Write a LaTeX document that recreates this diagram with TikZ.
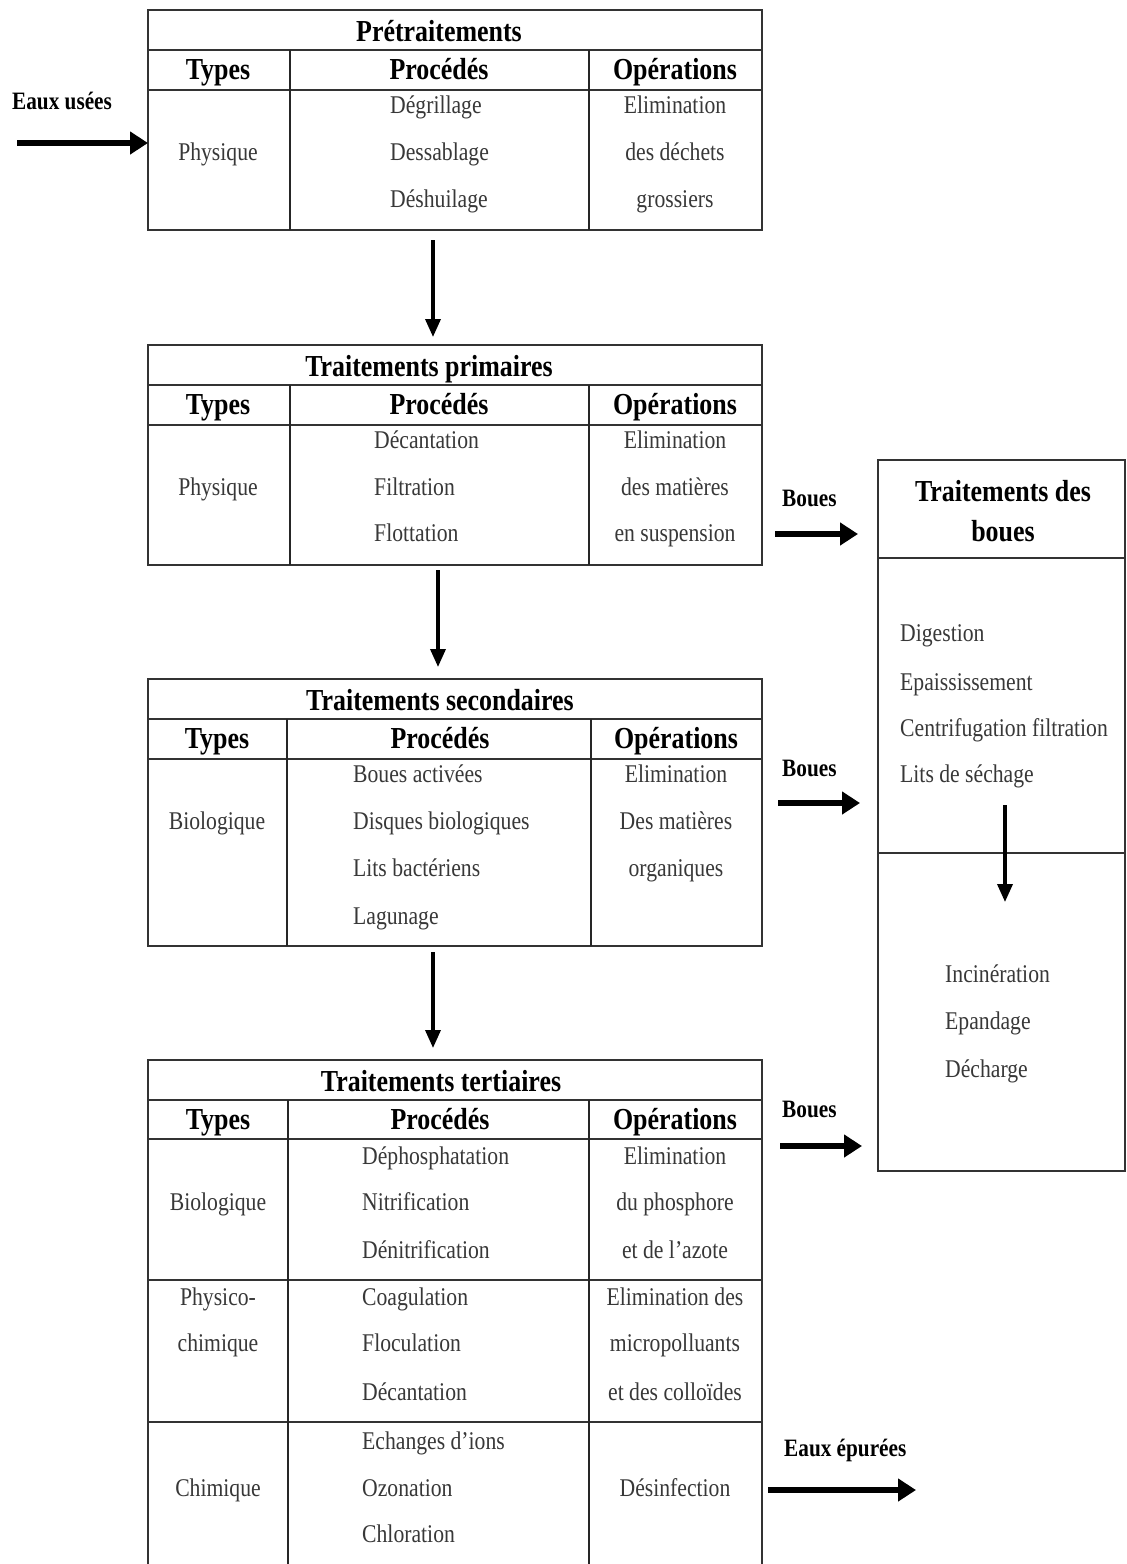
\documentclass[tikz,border=0pt]{standalone}
\usepackage{fontspec}
\setmainfont[FakeStretch=0.85]{Liberation Serif}
\usetikzlibrary{arrows.meta}
\begin{document}
\begin{tikzpicture}[x=1pt,y=-1pt,
  tbl/.style={draw=black!80, line width=2.2pt, inner sep=0, outer sep=0, anchor=north west},
  rowline/.style={draw=black!80, line width=2.2pt},
  colline/.style={draw=black!85, line width=1.4pt},
  txt/.style={inner sep=0, font=\fontsize{25.5}{28}\selectfont, text=black!78, anchor=base},
  txtw/.style={txt, anchor=base west},
  ttl/.style={inner sep=0, font=\fontsize{30.5}{34}\selectfont\bfseries, anchor=base},
  lab/.style={inner sep=0, font=\fontsize{25}{28}\selectfont\bfseries, anchor=base west},
  bigarrow/.style={line width=5.5pt, -{Triangle[length=18pt,width=22pt]}},
  downarrow/.style={line width=3.5pt, -{Triangle[length=18pt,width=15pt]}}]
\useasboundingbox[fill=white] (0,0) rectangle (1127,1564);

% ---------- Table 1 : Pretraitements ----------
\node[tbl, minimum width=614pt, minimum height=220pt] (t1) at (148,10) {};
\draw[rowline] (148,50) -- (762,50);
\draw[rowline] (148,90) -- (762,90);
\draw[colline] (290,50) -- (290,230);
\draw[colline] (589,50) -- (589,230);
\node[ttl] (t1ti) at (439,41) {Prétraitements};
\node[ttl] (t1h1) at (218,79) {Types};
\node[ttl] (t1h2) at (439,79) {Procédés};
\node[ttl] (t1h3) at (675,79) {Opérations};
\node[txt] (t1ty) at (218,160) {Physique};
\node[txtw] (t1p1) at (390,113) {Dégrillage};
\node[txtw] (t1p2) at (390,160) {Dessablage};
\node[txtw] (t1p3) at (390,207) {Déshuilage};
\node[txt] (t1o1) at (675,113) {Elimination};
\node[txt] (t1o2) at (675,160) {des déchets};
\node[txt] (t1o3) at (675,207) {grossiers};

% ---------- Table 2 : Traitements primaires ----------
\node[tbl, minimum width=614pt, minimum height=220pt] (t2) at (148,345) {};
\draw[rowline] (148,385) -- (762,385);
\draw[rowline] (148,425) -- (762,425);
\draw[colline] (290,385) -- (290,565);
\draw[colline] (589,385) -- (589,565);
\node[ttl] (t2ti) at (429,376) {Traitements primaires};
\node[ttl] (t2h1) at (218,414) {Types};
\node[ttl] (t2h2) at (439,414) {Procédés};
\node[ttl] (t2h3) at (675,414) {Opérations};
\node[txt] (t2ty) at (218,495) {Physique};
\node[txtw] (t2p1) at (374,448) {Décantation};
\node[txtw] (t2p2) at (374,495) {Filtration};
\node[txtw] (t2p3) at (374,541) {Flottation};
\node[txt] (t2o1) at (675,448) {Elimination};
\node[txt] (t2o2) at (675,495) {des matières};
\node[txt] (t2o3) at (675,541) {en suspension};

% ---------- Table 3 : Traitements secondaires ----------
\node[tbl, minimum width=614pt, minimum height=267pt] (t3) at (148,679) {};
\draw[rowline] (148,719) -- (762,719);
\draw[rowline] (148,759) -- (762,759);
\draw[colline] (287,719) -- (287,946);
\draw[colline] (591,719) -- (591,946);
\node[ttl] (t3ti) at (440,710) {Traitements secondaires};
\node[ttl] (t3h1) at (217,748) {Types};
\node[ttl] (t3h2) at (440,748) {Procédés};
\node[ttl] (t3h3) at (676,748) {Opérations};
\node[txt] (t3ty) at (217,829) {Biologique};
\node[txtw] (t3p1) at (353,782) {Boues activées};
\node[txtw] (t3p2) at (353,829) {Disques biologiques};
\node[txtw] (t3p3) at (353,876) {Lits bactériens};
\node[txtw] (t3p4) at (353,924) {Lagunage};
\node[txt] (t3o1) at (676,782) {Elimination};
\node[txt] (t3o2) at (676,829) {Des matières};
\node[txt] (t3o3) at (676,876) {organiques};

% ---------- Table 4 : Traitements tertiaires ----------
\node[tbl, minimum width=614pt, minimum height=510pt] (t4) at (148,1060) {};
\draw[rowline] (148,1100) -- (762,1100);
\draw[rowline] (148,1139) -- (762,1139);
\draw[rowline] (148,1280) -- (762,1280);
\draw[rowline] (148,1422) -- (762,1422);
\draw[colline] (288,1100) -- (288,1570);
\draw[colline] (589,1100) -- (589,1570);
\node[ttl] (t4ti) at (441,1091) {Traitements tertiaires};
\node[ttl] (t4h1) at (218,1129) {Types};
\node[ttl] (t4h2) at (440,1129) {Procédés};
\node[ttl] (t4h3) at (675,1129) {Opérations};
\node[txt] (t4ty1) at (218,1210) {Biologique};
\node[txt] (t4ty2a) at (218,1305) {Physico-};
\node[txt] (t4ty2b) at (218,1351) {chimique};
\node[txt] (t4ty3) at (218,1496) {Chimique};
\node[txtw] (t4p1) at (362,1164) {Déphosphatation};
\node[txtw] (t4p2) at (362,1210) {Nitrification};
\node[txtw] (t4p3) at (362,1258) {Dénitrification};
\node[txtw] (t4p4) at (362,1305) {Coagulation};
\node[txtw] (t4p5) at (362,1351) {Floculation};
\node[txtw] (t4p6) at (362,1400) {Décantation};
\node[txtw] (t4p7) at (362,1449) {Echanges d’ions};
\node[txtw] (t4p8) at (362,1496) {Ozonation};
\node[txtw] (t4p9) at (362,1542) {Chloration};
\node[txt] (t4o1) at (675,1164) {Elimination};
\node[txt] (t4o2) at (675,1210) {du phosphore};
\node[txt] (t4o3) at (675,1258) {et de l’azote};
\node[txt] (t4o4) at (675,1305) {Elimination des};
\node[txt] (t4o5) at (675,1351) {micropolluants};
\node[txt] (t4o6) at (675,1400) {et des colloïdes};
\node[txt] (t4o7) at (675,1496) {Désinfection};

% ---------- Right box : Traitements des boues ----------
\node[tbl, minimum width=247pt, minimum height=711pt] (r) at (878,460) {};
\draw[rowline] (878,558) -- (1125,558);
\draw[rowline] (878,853) -- (1125,853);
\node[ttl] (rt1) at (1003,501) {Traitements des};
\node[ttl] (rt2) at (1003,541) {boues};
\node[txtw] (r1) at (900,641) {Digestion};
\node[txtw] (r2) at (900,690) {Epaississement};
\node[txtw] (r3) at (900,736) {Centrifugation filtration};
\node[txtw] (r4) at (900,782) {Lits de séchage};
\node[txtw] (r5) at (945,982) {Incinération};
\node[txtw] (r6) at (945,1029) {Epandage};
\node[txtw] (r7) at (945,1077) {Décharge};

% ---------- Side labels ----------
\node[lab] (lin) at (12,109) {Eaux usées};
\node[lab] (lb1) at (782,506) {Boues};
\node[lab] (lb2) at (782,776) {Boues};
\node[lab] (lb3) at (782,1117) {Boues};
\node[lab] (lout) at (784,1456) {Eaux épurées};

% ---------- Connector end points ----------
\coordinate (in) at (17,143);
\coordinate (b1a) at (775,534);  \coordinate (b1b) at (858,534);
\coordinate (b2a) at (778,803);  \coordinate (b2b) at (860,803);
\coordinate (b3a) at (780,1146); \coordinate (b3b) at (862,1146);
\coordinate (outa) at (768,1490); \coordinate (outb) at (916,1490);
\coordinate (ra) at (1005,805);  \coordinate (rb) at (1005,902);

% ---------- Connectors ----------
\draw[bigarrow] (in) -- (in -| t1.west);
\draw[downarrow] ([xshift=-22pt,yshift=-10pt]t1.south) -- ([xshift=-22pt,yshift=8pt]t2.north);
\draw[downarrow] ([xshift=-17pt,yshift=-5pt]t2.south) -- ([xshift=-17pt,yshift=12pt]t3.north);
\draw[downarrow] ([xshift=-22pt,yshift=-6pt]t3.south) -- ([xshift=-22pt,yshift=12pt]t4.north);
\draw[bigarrow] (b1a) -- (b1b);
\draw[bigarrow] (b2a) -- (b2b);
\draw[bigarrow] (b3a) -- (b3b);
\draw[bigarrow] (outa) -- (outb);
\draw[downarrow] (ra) -- (rb);
\end{tikzpicture}
\end{document}
